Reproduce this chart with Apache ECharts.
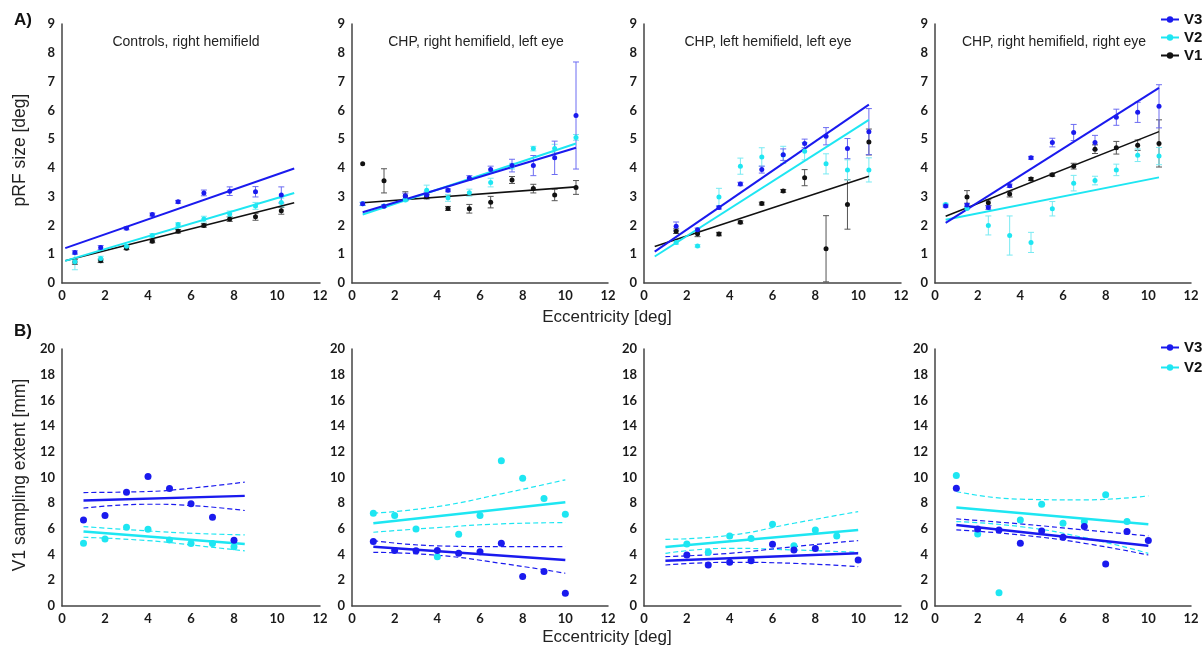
<!DOCTYPE html>
<html><head><meta charset="utf-8">
<script src="https://cdn.jsdelivr.net/npm/echarts@6/dist/echarts.min.js"></script>
<style>html,body{margin:0;padding:0;background:#fff}#c{width:1204px;height:646px}</style>
</head><body><div id="c"></div>
<script>
// ---------- Row A: pRF size vs eccentricity ----------
const panelTitlesA = ['Controls, right hemifield', 'CHP, right hemifield, left eye', 'CHP, left hemifield, left eye', 'CHP, right hemifield, right eye'];

const a1X = [0.6, 1.8, 3.0, 4.2, 5.4, 6.6, 7.8, 9.0, 10.2];
const a1V3 = [1.06, 1.23, 1.90, 2.38, 2.82, 3.13, 3.19, 3.17, 3.06];
const a1V3Err = [0.06, 0.07, 0.05, 0.05, 0.05, 0.10, 0.15, 0.18, 0.28];
const a1V2 = [0.74, 0.85, 1.28, 1.65, 2.03, 2.22, 2.40, 2.68, 2.80];
const a1V2Err = [0.28, 0.08, 0.05, 0.06, 0.06, 0.10, 0.10, 0.12, 0.15];
const a1V1 = [0.73, 0.77, 1.21, 1.45, 1.80, 2.00, 2.22, 2.30, 2.51];
const a1V1Err = [0.08, 0.06, 0.05, 0.05, 0.06, 0.06, 0.08, 0.12, 0.12];
const a1FitX = [0.15, 10.8];
const a1FitV3 = [1.21, 3.98];
const a1FitV2 = [0.77, 3.13];
const a1FitV1 = [0.77, 2.79];

const a2X = [0.5, 1.5, 2.5, 3.5, 4.5, 5.5, 6.5, 7.5, 8.5, 9.5, 10.5];
const a2V3 = [2.75, 2.67, 3.02, 3.06, 3.22, 3.65, 3.94, 4.08, 4.08, 4.35, 5.82];
const a2V3Err = [0.05, 0.04, 0.10, 0.10, 0.05, 0.08, 0.12, 0.22, 0.35, 0.58, 1.86];
const a2V2 = [2.75, 2.68, 2.88, 3.22, 2.96, 3.14, 3.49, 4.06, 4.67, 4.67, 5.06];
const a2V2Err = [0.06, 0.04, 0.05, 0.18, 0.12, 0.12, 0.15, 0.10, 0.08, 0.15, 0.10];
const a2V1 = [4.14, 3.55, 3.02, 3.00, 2.59, 2.58, 2.81, 3.58, 3.28, 3.06, 3.32];
const a2V1Err = [0, 0.42, 0.15, 0.08, 0.07, 0.15, 0.20, 0.12, 0.15, 0.20, 0.24];
const a2FitX = [0.5, 10.5];
const a2FitV3 = [2.46, 4.70];
const a2FitV2 = [2.38, 4.85];
const a2FitV1 = [2.79, 3.34];

const a3X = [1.5, 2.5, 3.5, 4.5, 5.5, 6.5, 7.5, 8.5, 9.5, 10.5];
const a3V3 = [1.97, 1.85, 2.62, 3.44, 3.94, 4.46, 4.85, 5.10, 4.67, 5.26];
const a3V3Err = [0.15, 0.06, 0.05, 0.06, 0.12, 0.20, 0.15, 0.30, 0.35, 0.80];
const a3V2 = [1.41, 1.29, 2.99, 4.06, 4.38, 4.45, 4.58, 4.14, 3.93, 3.93];
const a3V2Err = [0.06, 0.04, 0.30, 0.28, 0.32, 0.30, 0.30, 0.35, 0.35, 0.42];
const a3V1 = [1.80, 1.71, 1.70, 2.11, 2.76, 3.20, 3.66, 1.19, 2.73, 4.90];
const a3V1Err = [0.08, 0.10, 0.06, 0.05, 0.05, 0.05, 0.28, 1.15, 0.86, 0.45];
const a3FitX = [0.5, 10.5];
const a3FitV3 = [1.09, 6.20];
const a3FitV2 = [0.92, 5.67];
const a3FitV1 = [1.27, 3.71];

const a4X = [0.5, 1.5, 2.5, 3.5, 4.5, 5.5, 6.5, 7.5, 8.5, 9.5, 10.5];
const a4V3 = [2.68, 2.71, 2.62, 3.38, 4.35, 4.88, 5.23, 4.88, 5.76, 5.93, 6.14];
const a4V3Err = [0.04, 0.05, 0.06, 0.06, 0.05, 0.15, 0.28, 0.25, 0.28, 0.35, 0.75];
const a4V2 = [2.73, 2.59, 2.00, 1.65, 1.41, 2.58, 3.47, 3.56, 3.93, 4.44, 4.41];
const a4V2Err = [0.04, 0.04, 0.33, 0.68, 0.35, 0.25, 0.27, 0.15, 0.20, 0.22, 0.30];
const a4V1 = [null, 2.99, 2.79, 3.09, 3.61, 3.76, 4.06, 4.65, 4.70, 4.79, 4.85];
const a4V1Err = [0, 0.22, 0.10, 0.10, 0.05, 0.05, 0.10, 0.15, 0.22, 0.18, 0.82];
const a4FitX = [0.5, 10.5];
const a4FitV3 = [2.09, 6.78];
const a4FitV2 = [2.20, 3.67];
const a4FitV1 = [2.32, 5.26];

// ---------- Row B: V1 sampling extent vs eccentricity ----------
const b1X = [1, 2, 3, 4, 5, 6, 7, 8];
const b1V3 = [6.70, 7.04, 8.86, 10.08, 9.14, 7.95, 6.91, 5.12];
const b1V2 = [4.88, 5.22, 6.13, 5.97, 5.14, 4.86, 4.86, 4.62];
const b1FitX = [1, 8.5];
const b1FitV3 = [8.21, 8.57];
const b1FitV2 = [5.79, 4.83];
const b1CiX = [1, 4, 6, 8.5];
const b1V3Up = [8.83, 8.91, 9.17, 9.64];
const b1V3Lo = [7.61, 7.92, 7.82, 7.43];
const b1V2Up = [6.18, 5.84, 5.66, 5.53];
const b1V2Lo = [5.35, 5.09, 4.75, 4.29];

const b2X = [1, 2, 3, 4, 5, 6, 7, 8, 9, 10];
const b2V3 = [5.01, 4.31, 4.29, 4.31, 4.10, 4.23, 4.88, 2.29, 2.68, 0.99];
const b2V2 = [7.22, 7.04, 6.00, 3.84, 5.58, 7.04, 11.30, 9.95, 8.36, 7.14];
const b2FitX = [1, 10];
const b2FitV3 = [4.62, 3.58];
const b2FitV2 = [6.44, 8.08];
const b2CiX = [1, 4, 7, 10];
const b2V3Up = [5.09, 4.68, 4.62, 4.62];
const b2V3Lo = [4.18, 3.95, 3.32, 2.55];
const b2V2Up = [7.22, 7.74, 8.73, 9.82];
const b2V2Lo = [5.74, 6.10, 6.39, 6.49];

const b3X = [1, 2, 3, 4, 5, 6, 7, 8, 9, 10];
const b3V3 = [null, 3.97, 3.19, 3.40, 3.53, 4.81, 4.36, 4.47, null, 3.58];
const b3V2 = [null, 4.83, 4.18, 5.45, 5.25, 6.36, 4.68, 5.92, 5.45, null];
const b3FitX = [1, 10];
const b3FitV3 = [3.53, 4.10];
const b3FitV2 = [4.60, 5.92];
const b3CiX = [1, 4, 7, 10];
const b3V3Up = [3.84, 4.10, 4.62, 5.09];
const b3V3Lo = [3.19, 3.40, 3.32, 3.06];
const b3V2Up = [5.19, 5.50, 6.44, 7.35];
const b3V2Lo = [4.10, 4.49, 4.36, 4.18];

const b4X = [1, 2, 3, 4, 5, 6, 7, 8, 9, 10];
const b4V3 = [9.17, 6.00, 5.92, 4.88, 5.84, 5.35, 6.18, 3.27, 5.79, 5.09];
const b4V2 = [10.16, 5.61, 1.04, 6.70, 7.92, 6.44, 6.57, 8.65, 6.57, null];
const b4FitX = [1, 10];
const b4FitV3 = [6.31, 4.68];
const b4FitV2 = [7.66, 6.36];
const b4CiX = [1, 4, 7, 10];
const b4V3Up = [6.78, 6.39, 5.92, 5.45];
const b4V3Lo = [5.92, 5.53, 4.88, 3.97];
const b4V2Up = [8.91, 8.31, 8.26, 8.57];
const b4V2Lo = [6.57, 6.18, 5.32, 4.10];

// ---------- styling ----------
const C3 = '#1a1aee', C2 = '#1ee6f2', C1 = '#111111';
const E3 = '#6c6cf2', E2 = '#78eaf2', E1 = '#555555';
const gridLefts = [62, 352, 644, 935];
const gridWidths = [258, 256, 257, 256];
const tickFont = {fontFamily: 'Lato', fontWeight: 'bold', fontSize: 13, color: '#1a1a1a'};
const textFont = 'Liberation Sans';

const panelsA = [
  {x: a1X, v3: a1V3, e3: a1V3Err, v2: a1V2, e2: a1V2Err, v1: a1V1, e1: a1V1Err, fx: a1FitX, f3: a1FitV3, f2: a1FitV2, f1: a1FitV1},
  {x: a2X, v3: a2V3, e3: a2V3Err, v2: a2V2, e2: a2V2Err, v1: a2V1, e1: a2V1Err, fx: a2FitX, f3: a2FitV3, f2: a2FitV2, f1: a2FitV1},
  {x: a3X, v3: a3V3, e3: a3V3Err, v2: a3V2, e2: a3V2Err, v1: a3V1, e1: a3V1Err, fx: a3FitX, f3: a3FitV3, f2: a3FitV2, f1: a3FitV1},
  {x: a4X, v3: a4V3, e3: a4V3Err, v2: a4V2, e2: a4V2Err, v1: a4V1, e1: a4V1Err, fx: a4FitX, f3: a4FitV3, f2: a4FitV2, f1: a4FitV1}
];
const panelsB = [
  {x: b1X, v3: b1V3, v2: b1V2, fx: b1FitX, f3: b1FitV3, f2: b1FitV2, cx: b1CiX, u3: b1V3Up, l3: b1V3Lo, u2: b1V2Up, l2: b1V2Lo},
  {x: b2X, v3: b2V3, v2: b2V2, fx: b2FitX, f3: b2FitV3, f2: b2FitV2, cx: b2CiX, u3: b2V3Up, l3: b2V3Lo, u2: b2V2Up, l2: b2V2Lo},
  {x: b3X, v3: b3V3, v2: b3V2, fx: b3FitX, f3: b3FitV3, f2: b3FitV2, cx: b3CiX, u3: b3V3Up, l3: b3V3Lo, u2: b3V2Up, l2: b3V2Lo},
  {x: b4X, v3: b4V3, v2: b4V2, fx: b4FitX, f3: b4FitV3, f2: b4FitV2, cx: b4CiX, u3: b4V3Up, l3: b4V3Lo, u2: b4V2Up, l2: b4V2Lo}
];

function pairs(xs, ys) {
  const out = [];
  xs.forEach((x, i) => { if (ys[i] !== null && ys[i] !== undefined) out.push([x, ys[i]]); });
  return out;
}
function triples(xs, ys, es) {
  const out = [];
  xs.forEach((x, i) => { if (ys[i] !== null && es[i]) out.push([x, ys[i], es[i]]); });
  return out;
}
function errRender(color) {
  return function (params, api) {
    const x = api.value(0), y = api.value(1), e = api.value(2);
    const t = api.coord([x, y + e]), b = api.coord([x, y - e]);
    const w = 3;
    const st = {stroke: color, lineWidth: 1};
    return {type: 'group', children: [
      {type: 'line', shape: {x1: t[0], y1: t[1], x2: b[0], y2: b[1]}, style: st},
      {type: 'line', shape: {x1: t[0] - w, y1: t[1], x2: t[0] + w, y2: t[1]}, style: st},
      {type: 'line', shape: {x1: b[0] - w, y1: b[1], x2: b[0] + w, y2: b[1]}, style: st}
    ]};
  };
}

const grids = [], xAxes = [], yAxes = [], series = [];
for (let r = 0; r < 2; r++) {
  for (let c = 0; c < 4; c++) {
    const gi = r * 4 + c;
    grids.push(r === 0
      ? {left: gridLefts[c], width: gridWidths[c], top: 24, height: 259}
      : {left: gridLefts[c], width: gridWidths[c], top: 349, height: 257});
    xAxes.push({gridIndex: gi, type: 'value', min: 0, max: 12, interval: 2,
      axisLine: {show: true, onZero: false, lineStyle: {color: '#444', width: 1.5}},
      axisTick: {show: false}, splitLine: {show: false},
      axisLabel: Object.assign({margin: 6}, tickFont)});
    yAxes.push({gridIndex: gi, type: 'value', min: 0, max: r === 0 ? 9 : 20, interval: r === 0 ? 1 : 2,
      axisLine: {show: true, onZero: false, lineStyle: {color: '#444', width: 1.5}},
      axisTick: {show: false}, splitLine: {show: false},
      axisLabel: Object.assign({margin: 7}, tickFont)});
  }
}

// legend dummies
[['V3', C3], ['V2', C2], ['V1', C1]].forEach(([n, col]) => {
  series.push({name: n, type: 'line', xAxisIndex: 3, yAxisIndex: 3, data: [], symbol: 'circle', symbolSize: 7,
    itemStyle: {color: col, opacity: 1}, lineStyle: {color: col, width: 2}});
});
[['V3 ', C3], ['V2 ', C2]].forEach(([n, col]) => {
  series.push({name: n, type: 'line', xAxisIndex: 7, yAxisIndex: 7, data: [], symbol: 'circle', symbolSize: 7,
    itemStyle: {color: col, opacity: 1}, lineStyle: {color: col, width: 2}});
});

panelsA.forEach((p, c) => {
  const ax = {xAxisIndex: c, yAxisIndex: c};
  const groups = [['1', p.v1, p.e1, p.f1, C1, E1, 1.6], ['2', p.v2, p.e2, p.f2, C2, E2, 2], ['3', p.v3, p.e3, p.f3, C3, E3, 2]];
  groups.forEach(([k, ys, es, fs, col, ecol, lw]) => {
    series.push(Object.assign({name: 'a' + c + 'err' + k, type: 'custom', renderItem: errRender(ecol),
      encode: {x: 0, y: 1}, data: triples(p.x, ys, es), silent: true, z: 2}, ax));
  });
  groups.forEach(([k, ys, es, fs, col, ecol, lw]) => {
    series.push(Object.assign({name: 'a' + c + 'fit' + k, type: 'line', data: pairs(p.fx, fs), symbol: 'none',
      lineStyle: {color: col, width: lw}, silent: true, z: 3}, ax));
  });
  groups.forEach(([k, ys, es, fs, col]) => {
    series.push(Object.assign({name: 'a' + c + 'pt' + k, type: 'scatter', data: pairs(p.x, ys), symbol: 'circle', symbolSize: 5,
      itemStyle: {color: col, opacity: 1}, silent: true, z: 4}, ax));
  });
});

panelsB.forEach((p, c) => {
  const gi = 4 + c;
  const ax = {xAxisIndex: gi, yAxisIndex: gi};
  const groups = [['2', p.v2, p.f2, p.u2, p.l2, C2], ['3', p.v3, p.f3, p.u3, p.l3, C3]];
  groups.forEach(([k, ys, fs, us, ls, col]) => {
    [us, ls].forEach((cs, j) => {
      series.push(Object.assign({name: 'b' + c + 'ci' + k + j, type: 'line', data: pairs(p.cx, cs), symbol: 'none', smooth: 0.5,
        lineStyle: {color: col, width: 1.2, type: [5, 3]}, silent: true, z: 2}, ax));
    });
    series.push(Object.assign({name: 'b' + c + 'fit' + k, type: 'line', data: pairs(p.fx, fs), symbol: 'none',
      lineStyle: {color: col, width: 2.5}, silent: true, z: 3}, ax));
    series.push(Object.assign({name: 'b' + c + 'pt' + k, type: 'scatter', data: pairs(p.x, ys), symbol: 'circle', symbolSize: 7,
      itemStyle: {color: col, opacity: 1}, silent: true, z: 4}, ax));
  });
});

const titleCenters = [186, 476, 768, 1054];
const graphics = [
  {type: 'text', x: 23, y: 20, style: {text: 'A)', font: 'bold 17px "Liberation Sans"', fill: '#111', align: 'center', verticalAlign: 'middle'}},
  {type: 'text', x: 23, y: 331, style: {text: 'B)', font: 'bold 17px "Liberation Sans"', fill: '#111', align: 'center', verticalAlign: 'middle'}},
  {type: 'text', x: 20, y: 150, rotation: Math.PI / 2, style: {text: 'pRF size [deg]', font: '17.5px "Liberation Sans"', fill: '#222', align: 'center', verticalAlign: 'middle'}},
  {type: 'text', x: 20, y: 475, rotation: Math.PI / 2, style: {text: 'V1 sampling extent [mm]', font: '17.5px "Liberation Sans"', fill: '#222', align: 'center', verticalAlign: 'middle'}},
  {type: 'text', x: 607, y: 317, style: {text: 'Eccentricity [deg]', font: '17px "Liberation Sans"', fill: '#222', align: 'center', verticalAlign: 'middle'}},
  {type: 'text', x: 607, y: 637, style: {text: 'Eccentricity [deg]', font: '17px "Liberation Sans"', fill: '#222', align: 'center', verticalAlign: 'middle'}}
];
panelTitlesA.forEach((t, i) => graphics.push({type: 'text', x: titleCenters[i], y: 42,
  style: {text: t, font: '14px "Liberation Sans"', fill: '#222', align: 'center', verticalAlign: 'middle'}}));

const legendText = {fontFamily: textFont, fontWeight: 'bold', fontSize: 15, color: '#111'};
const option = {
  animation: false,
  backgroundColor: '#fff',
  grid: grids, xAxis: xAxes, yAxis: yAxes, series: series, graphic: graphics,
  legend: [
    {data: ['V3', 'V2', 'V1'], orient: 'vertical', left: 1160, top: 12, itemGap: 3, itemWidth: 18, itemHeight: 8,
      textStyle: legendText, selectedMode: false, padding: 0},
    {data: ['V3 ', 'V2 '], orient: 'vertical', left: 1160, top: 340, itemGap: 5, itemWidth: 18, itemHeight: 8,
      textStyle: legendText, selectedMode: false, padding: 0, formatter: n => n.trim()}
  ]
};
const chart = echarts.init(document.getElementById('c'));
chart.setOption(option);
</script></body></html>
